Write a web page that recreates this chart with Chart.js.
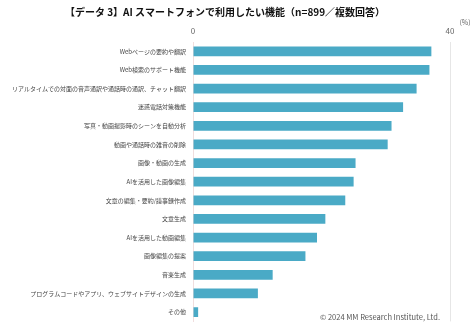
<!DOCTYPE html>
<html>
<head>
<meta charset="utf-8">
<script src="https://cdn.jsdelivr.net/npm/chart.js@4"></script>
<style>
  html, body { margin: 0; padding: 0; background: #fff; }
  #wrap { width: 474px; height: 332px; }
</style>
</head>
<body>
<div id="wrap"><canvas id="chart"></canvas></div>
<script>
// --- Data ---
const categories = [
    'Webページの要約や翻訳',
    'Web検索のサポート機能',
    'リアルタイムでの対面の音声通訳や通話時の通訳、チャット翻訳',
    '迷惑電話対策機能',
    '写真・動画撮影時のシーンを自動分析',
    '動画や通話時の雑音の削除',
    '画像・動画の生成',
    'AIを活用した画像編集',
    '文章の編集・要約/議事録作成',
    '文章生成',
    'AIを活用した動画編集',
    '画像編集の提案',
    '音楽生成',
    'プログラムコードやアプリ、ウェブサイトデザインの生成',
    'その他'
];
const percentValues = [37.1, 36.8, 34.8, 32.7, 30.9, 30.3, 25.3, 25.0, 23.7, 20.6, 19.3, 17.5, 12.4, 10.1, 0.8];
const tickValues = [0, 40];

const FONT = '"Noto Sans CJK JP", "Noto Sans", sans-serif';

// --- Extra texts: unit label and copyright ---
const extraText = {
    id: 'extraText',
    afterDraw(chart) {
        const { ctx } = chart;
        ctx.save();
        ctx.fillStyle = '#666';
        ctx.font = '7px ' + FONT;
        ctx.textAlign = 'center';
        ctx.textBaseline = 'middle';
        ctx.fillText('(%)', 465, 22);
        ctx.fillStyle = '#555';
        ctx.font = '7.5px ' + FONT;
        ctx.textAlign = 'right';
        ctx.fillText('© 2024 MM Research Institute, Ltd.', 440, 317);
        ctx.restore();
    }
};

new Chart(document.getElementById('chart'), {
    type: 'bar',
    data: {
        labels: categories,
        datasets: [{
            data: percentValues,
            backgroundColor: '#4aaac6',
            barPercentage: 0.52,
            categoryPercentage: 1
        }]
    },
    options: {
        indexAxis: 'y',
        responsive: true,
        maintainAspectRatio: false,
        animation: false,
        layout: { padding: { left: 0, right: 24, top: 0, bottom: 3 } },
        scales: {
            x: {
                position: 'top',
                min: 0,
                max: 40,
                afterBuildTicks: (scale) => { scale.ticks = tickValues.map(v => ({ value: v })); },
                afterFit: (scale) => { scale.height = 24; },
                grid: { color: '#e6e6e6', drawTicks: false },
                border: { display: false },
                ticks: { color: '#666', font: { family: FONT, size: 8 }, padding: 6 }
            },
            y: {
                afterFit: (scale) => { scale.width = 193; },
                grid: { display: false, drawTicks: false },
                border: { display: true, color: '#f0dede' },
                ticks: { color: '#444', font: { family: FONT, size: 6 }, padding: 7, autoSkip: false }
            }
        },
        plugins: {
            legend: { display: false },
            tooltip: { enabled: false },
            title: {
                display: true,
                text: '【データ 3】AI スマートフォンで利用したい機能（n=899／複数回答）',
                color: '#111',
                font: { family: FONT, size: 10, weight: 'bold', lineHeight: 1.2 },
                padding: { top: 6, bottom: 0 }
            }
        }
    },
    plugins: [extraText]
});
</script>
</body>
</html>
